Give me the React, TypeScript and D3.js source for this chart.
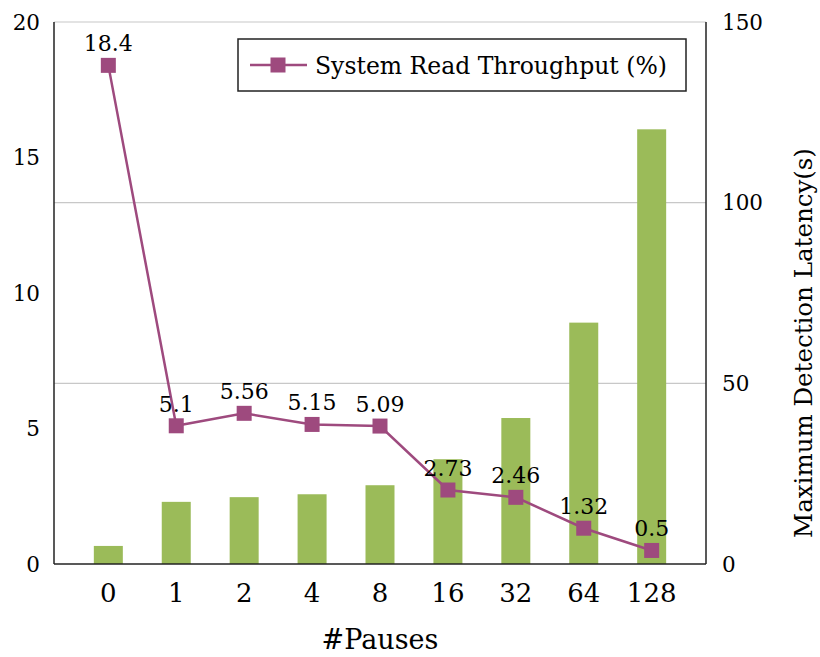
import React from "react";
import * as d3 from "d3";

const categories = ["0", "1", "2", "4", "8", "16", "32", "64", "128"];
const latency = [5.0, 17.2, 18.5, 19.3, 21.8, 29.0, 40.4, 66.8, 120.3];
const throughput = [18.4, 5.1, 5.56, 5.15, 5.09, 2.73, 2.46, 1.32, 0.5];
const throughputLabels = ["18.4", "5.1", "5.56", "5.15", "5.09", "2.73", "2.46", "1.32", "0.5"];
const leftTicks = [0, 5, 10, 15, 20];
const rightTicks = [0, 50, 100, 150];
const gridTicks = [50, 100];

const W = 820;
const H = 657;
const M = { left: 54, right: 706, top: 22, bottom: 564 };
const FONT = "DejaVu Serif";
const BAR = "#9BBB59";
const LINE = "#9E4A7E";

export default function App() {
  const x = d3.scalePoint<string>().domain(categories).range([M.left, M.right]).padding(0.8);
  const yL = d3.scaleLinear().domain([0, 20]).range([M.bottom, M.top]);
  const yR = d3.scaleLinear().domain([0, 150]).range([M.bottom, M.top]);
  const barW = 29;
  const line = d3
    .line<number>()
    .x((_, i) => x(categories[i]) as number)
    .y((d) => yL(d));
  const ms = 15;

  return (
    <svg
      width={W}
      height={H}
      fontFamily={FONT}
      style={{ position: "absolute", left: 0, top: 0 }}
    >
      <rect x={0} y={0} width={W} height={H} fill="#fff" />
      <line x1={M.left} x2={M.right} y1={M.top} y2={M.top} stroke="#c8c8c8" strokeWidth={1.2} />
      {gridTicks.map((t) => (
        <line key={t} x1={M.left} x2={M.right} y1={yR(t)} y2={yR(t)} stroke="#c8c8c8" strokeWidth={1.2} />
      ))}
      {latency.map((v, i) => (
        <rect
          key={i}
          x={(x(categories[i]) as number) - barW / 2}
          y={yR(v)}
          width={barW}
          height={yR(0) - yR(v)}
          fill={BAR}
        />
      ))}
      <line x1={M.left} x2={M.left} y1={M.top} y2={M.bottom} stroke="#222" strokeWidth={1.5} />
      <line x1={M.right} x2={M.right} y1={M.top} y2={M.bottom} stroke="#222" strokeWidth={1.5} />
      <line x1={M.left} x2={M.right} y1={M.bottom} y2={M.bottom} stroke="#222" strokeWidth={1.5} />
      <path d={line(throughput) || ""} fill="none" stroke={LINE} strokeWidth={2.5} />
      {throughput.map((v, i) => (
        <rect
          key={i}
          x={(x(categories[i]) as number) - ms / 2}
          y={yL(v) - ms / 2}
          width={ms}
          height={ms}
          fill={LINE}
        />
      ))}
      {throughput.map((v, i) => (
        <text
          key={i}
          x={x(categories[i]) as number}
          y={yL(v) - 14}
          textAnchor="middle"
          fontSize={22}
          fontFamily={FONT}
          fill="#000"
        >
          {throughputLabels[i]}
        </text>
      ))}
      {leftTicks.map((t) => (
        <text key={t} x={40} y={yL(t)} dy="0.35em" textAnchor="end" fontSize={21.5} fontFamily={FONT} fill="#000">
          {t}
        </text>
      ))}
      {rightTicks.map((t) => (
        <text key={t} x={722} y={yR(t)} dy="0.35em" textAnchor="start" fontSize={21.5} fontFamily={FONT} fill="#000">
          {t}
        </text>
      ))}
      {categories.map((c) => (
        <text key={c} x={x(c) as number} y={602} textAnchor="middle" fontSize={26} fontFamily={FONT} fill="#000">
          {c}
        </text>
      ))}
      <text x={(M.left + M.right) / 2} y={649} textAnchor="middle" fontSize={27} fontFamily={FONT} fill="#000">
        #Pauses
      </text>
      <text
        transform="translate(812,343) rotate(-90)"
        textAnchor="middle"
        fontSize={24.5}
        fontFamily={FONT}
        fill="#000"
      >
        Maximum Detection Latency(s)
      </text>
      <rect x={238} y={39} width={448} height={52} fill="#fff" stroke="#222" strokeWidth={1.5} />
      <line x1={250} x2={307} y1={65} y2={65} stroke={LINE} strokeWidth={2.5} />
      <rect x={278 - ms / 2} y={65 - ms / 2} width={ms} height={ms} fill={LINE} />
      <text x={315} y={73.5} fontSize={23.5} fontFamily={FONT} fill="#000">
        System Read Throughput (%)
      </text>
    </svg>
  );
}
